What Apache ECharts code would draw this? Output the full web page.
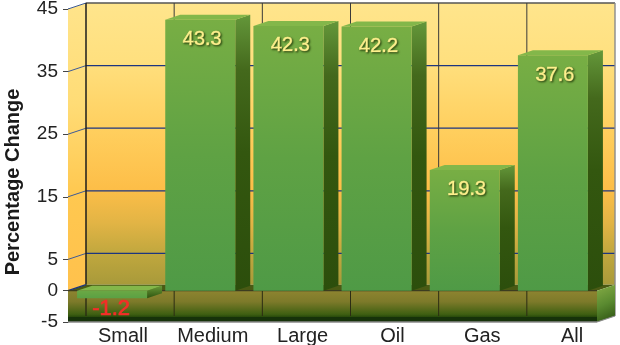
<!DOCTYPE html>
<html>
<head>
<meta charset="utf-8">
<style>html,body{margin:0;padding:0;background:#fff}#c{width:620px;height:345px}</style>
<script src="https://cdn.jsdelivr.net/npm/echarts@6/dist/echarts.min.js"></script>
</head>
<body>
<div id="c"></div>
<script>
const categories = ['Small', 'Medium', 'Large', 'Oil', 'Gas', 'All'];
const percentChange = [-1.2, 43.3, 42.3, 42.2, 19.3, 37.6];
const yTicks = [-5, 0, 5, 15, 25, 35, 45];
const wallLines = [5, 15, 25, 35];

const DX = 18, DY = -6;          // depth of the wall box
const BDX = 15, BDY = -5;        // depth of a bar
const BAR_W = 70;
const G = echarts.graphic;
const vGrad = stops => new G.LinearGradient(0, 0, 0, 1, stops.map(s => ({offset: s[0], color: s[1]})));

function poly(points, fill, z2, stroke, lw) {
  return {type: 'polygon', shape: {points}, z2: z2 || 0,
    style: {fill, stroke: stroke || null, lineWidth: lw || 0}};
}
function line(x1, y1, x2, y2, stroke, lw, z2) {
  return {type: 'line', shape: {x1, y1, x2, y2}, z2: z2 || 1, style: {stroke, lineWidth: lw}};
}

function renderWalls(params, api) {
  const cs = params.coordSys;
  const L = cs.x, R = cs.x + cs.width;
  const y = v => api.coord([0, v])[1];
  const top = y(45), bot = y(-5), zero = y(0);
  const kids = [];
  // left wall above zero
  kids.push(poly([[L, top], [L + DX, top + DY], [L + DX, zero + DY], [L, zero]],
    vGrad([[0, '#ffe48b'], [0.35, '#ffdc76'], [0.66, '#ffc850'], [1, '#ffc14c']])));
  // back wall above zero
  kids.push(poly([[L + DX, top + DY], [R + DX, top + DY], [R + DX, zero + DY], [L + DX, zero + DY]],
    vGrad([[0, '#ffe58c'], [0.2, '#ffe07f'], [0.45, '#ffcf5e'], [0.66, '#fdbe48'], [0.78, '#e2b445'], [0.89, '#c0a73e'], [1, '#a89a3a']])));
  // wall lines
  wallLines.forEach(v => {
    const yy = y(v);
    kids.push(line(L, yy, L + DX, yy + DY, '#3c5a98', 1));
    kids.push(line(L + DX, yy + DY, R + DX, yy + DY, '#1c3580', 1.2));
  });
  kids.push(line(L, top, L + DX, top + DY, '#3c5a98', 1));
  kids.push(line(L + DX, top + DY, R + DX, top + DY, '#555', 1.6));
  kids.push(line(R + DX, top + DY, R + DX, bot + DY, '#8a8a8a', 1.4));
  // back verticals
  const step = cs.width / categories.length;
  for (let i = 0; i < categories.length; i++) {
    kids.push(line(L + DX + step * i, top + DY, L + DX + step * i, zero + DY, i === 0 ? '#1c1c1c' : '#3a3a3a', i === 0 ? 1.5 : 1));
  }
  // zero plane
  kids.push(poly([[L, zero], [L + DX, zero + DY], [R + DX, zero + DY], [R, zero]], '#4a5a14', 2));
  kids.push(line(L, zero, L + DX, zero + DY, '#1c3580', 1.4, 3));
  // below-zero front
  kids.push(poly([[L, zero], [R, zero], [R, bot], [L, bot]],
    vGrad([[0, '#8e8430'], [0.35, '#7d7a2a'], [0.75, '#3f6012'], [0.83, '#2a4c0c'], [0.84, '#16320a'], [1, '#16320a']]), 2));
  kids.push(line(L, zero, R, zero, '#3c3c20', 1.2, 3));
  for (let i = 0; i < categories.length; i++) {
    kids.push(line(L + DX + step * i, zero, L + DX + step * i, bot + DY, '#2c2c14', i === 0 ? 1.4 : 1, 3));
  }
  // right end of the box
  kids.push(poly([[R, zero], [R + DX, zero + DY], [R + DX, bot + DY], [R, bot]],
    new G.LinearGradient(0, 0, 1, 1, [{offset: 0, color: '#86ac46'}, {offset: 0.5, color: '#5a8a30'}, {offset: 1, color: '#2c5010'}]), 3));
  kids.push(line(L, bot, R, bot, '#8a8a8a', 1.4, 4));
  kids.push(line(R, bot, R + DX, bot + DY, '#8a8a8a', 1.2, 4));
  return {type: 'group', children: kids};
}

function renderBar(params, api) {
  const i = api.value(0), v = api.value(1);
  const base = api.coord([i, 0]), end = api.coord([i, v]);
  const x0 = base[0] - BAR_W / 2, x1 = x0 + BAR_W;
  const yTop = Math.min(base[1], end[1]), yBot = Math.max(base[1], end[1]);
  const negative = v < 0;
  const kids = [
    poly([[x1, yTop], [x1 + BDX, yTop + BDY], [x1 + BDX, yBot + BDY], [x1, yBot]],
      vGrad(negative ? [[0, '#6a9a38'], [1, '#2e5410']] : [[0, '#64973a'], [0.2, '#44691c'], [0.5, '#33570f'], [1, '#2c4e0c']])),
    poly([[x0, yTop], [x0 + BDX, yTop + BDY], [x1 + BDX, yTop + BDY], [x1, yTop]], '#83b74a'),
    poly([[x0, yTop], [x1, yTop], [x1, yBot], [x0, yBot]],
      vGrad(negative ? [[0, '#6ba844'], [1, '#5ba044']] : [[0, '#78ae44'], [0.5, '#5fa244'], [1, '#4f9a46']])),
    {type: 'text', z2: 5, style: {
      x: (x0 + x1) / 2 + (negative ? -1 : 2), y: negative ? yBot + 11 : yTop + 20,
      text: String(v), align: 'center', verticalAlign: 'middle',
      font: (negative ? '22px' : '20px') + ' "Liberation Sans", Arial, sans-serif',
      fill: negative ? '#f42e28' : '#fdf08c',
      stroke: negative ? '#f42e28' : '#fdf08c', lineWidth: 0.7,
      textShadowColor: negative ? 'rgba(0,0,0,0)' : '#2d4a10',
      textShadowBlur: 2, textShadowOffsetX: 1, textShadowOffsetY: 1
    }}
  ];
  return {type: 'group', children: kids};
}

const chart = echarts.init(document.getElementById('c'), null, {renderer: 'canvas'});
const labelFont = {fontFamily: '"Liberation Sans", Arial, sans-serif', fontSize: 19, color: '#222'};
chart.setOption({
  animation: false,
  backgroundColor: '#fff',
  grid: [
    {left: 68, top: 9, width: 529, height: 313, outerBoundsMode: 'none'},
    {left: 78, top: 9, width: 539, height: 313, outerBoundsMode: 'none'}
  ],
  xAxis: [
    {type: 'category', gridIndex: 0, data: categories, axisLine: {show: false}, axisTick: {show: false}, axisLabel: {show: false}},
    {type: 'category', gridIndex: 1, data: categories, axisLine: {show: false}, axisTick: {show: false},
      axisLabel: Object.assign({margin: 4, interval: 0, hideOverlap: false}, labelFont, {fontSize: 20})}
  ],
  yAxis: [
    {type: 'value', gridIndex: 0, min: -5, max: 45, interval: 5,
      name: 'Percentage Change', nameLocation: 'middle', nameGap: 45,
      nameTextStyle: {fontFamily: '"Liberation Sans", Arial, sans-serif', fontSize: 20, fontWeight: 'bold', color: '#1a1a1a', padding: [0, 33, 0, 0]},
      splitLine: {show: false},
      axisLine: {show: true, lineStyle: {color: '#33415e', width: 1}},
      axisTick: {show: true, length: 5, customValues: yTicks, lineStyle: {color: '#444', width: 1}},
      axisLabel: Object.assign({margin: 10, customValues: yTicks}, labelFont)},
    {type: 'value', gridIndex: 1, min: -5, max: 45, show: false}
  ],
  series: [
    {type: 'custom', xAxisIndex: 0, yAxisIndex: 0, z: 1, silent: true, data: [[0, 0]], renderItem: renderWalls},
    {type: 'custom', xAxisIndex: 0, yAxisIndex: 0, z: 3, silent: true,
      data: percentChange.map((v, i) => [i, v]), renderItem: renderBar}
  ]
});
</script>
</body>
</html>
